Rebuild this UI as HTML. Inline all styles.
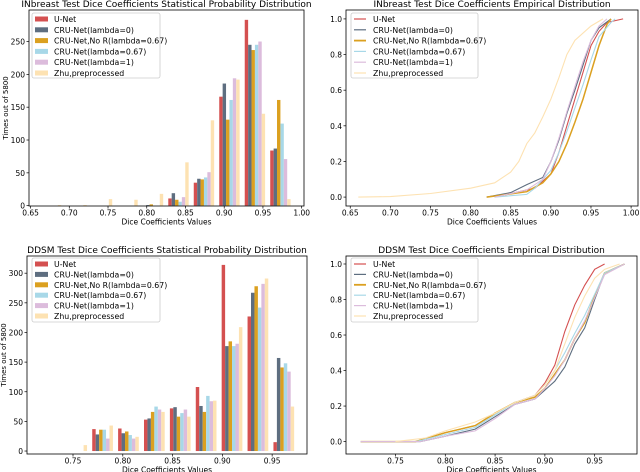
<!DOCTYPE html>
<html><head><meta charset="utf-8"><style>
html,body{margin:0;padding:0;background:#fff;}
svg{display:block;font-family:"DejaVu Sans","Liberation Sans",sans-serif;}
</style></head><body>
<svg id="s" width="640" height="472" viewBox="0 0 640 472"></svg>
<script>
const seriesNames=["U-Net","CRU-Net(lambda=0)","CRU-Net,No R(lambda=0.67)","CRU-Net(lambda=0.67)","CRU-Net(lambda=1)","Zhu,preprocessed"];
const colors=["#d45050","#5e6e80","#dba020","#a8d8e8","#dcbcdc","#fde2b2"];
// INbreast histogram (10 bins), rows=series
const inbBinStart=0.660, inbBinWidth=0.0329;
const inbU=[0,0,0,0,0,11,35,166,283,84];
const inbC0=[0,0,0,0,1,19,41,186,245,87];
const inbNoR=[0,0,0,0,2,9,40,131,237,161];
const inbC67=[0,0,0,0,0,6,43,161,245,125];
const inbC1=[0,0,0,0,0,13,51,194,250,71];
const inbZhu=[1,1,10,9,18,66,130,192,140,10];
// DDSM histogram
const ddBinStart=0.7147, ddBinWidth=0.026;
const ddU=[0,0,37,38,53,72,108,314,227,15];
const ddC0=[0,0,28,30,55,74,76,177,267,157];
const ddNoR=[0,0,36,33,66,58,66,185,278,141];
const ddC67=[0,0,36,27,75,64,93,177,242,148];
const ddC1=[0,0,21,21,70,70,84,181,282,134];
const ddZhu=[0,10,43,24,66,58,85,209,291,75];
// INbreast ECDFs
const eiUx=[0.83,0.88,0.90,0.91,0.92,0.93,0.94,0.95,0.96,0.97,0.99];
const eiUy=[0,0.05,0.13,0.25,0.40,0.55,0.70,0.85,0.93,0.98,1.0];
const eiC0x=[0.82,0.85,0.87,0.89,0.90,0.91,0.92,0.93,0.94,0.95,0.96,0.975];
const eiC0y=[0,0.025,0.07,0.11,0.20,0.32,0.47,0.60,0.74,0.88,0.95,1.0];
const eiNoRx=[0.82,0.87,0.89,0.90,0.91,0.92,0.93,0.94,0.95,0.96,0.97,0.975];
const eiNoRy=[0,0.03,0.08,0.13,0.20,0.30,0.42,0.55,0.70,0.85,0.97,1.0];
const eiC67x=[0.83,0.87,0.88,0.90,0.91,0.92,0.93,0.94,0.95,0.96,0.975,0.98];
const eiC67y=[0,0.015,0.05,0.15,0.25,0.37,0.50,0.63,0.77,0.90,0.98,1.0];
const eiC1x=[0.83,0.87,0.89,0.90,0.91,0.92,0.93,0.94,0.95,0.96,0.97];
const eiC1y=[0,0.04,0.10,0.20,0.33,0.48,0.62,0.76,0.88,0.96,1.0];
const eiZx=[0.66,0.70,0.75,0.80,0.83,0.85,0.86,0.87,0.88,0.89,0.90,0.91,0.92,0.93,0.95,0.965];
const eiZy=[0,0.003,0.02,0.05,0.08,0.14,0.20,0.30,0.36,0.45,0.55,0.67,0.80,0.88,0.96,1.0];
// DDSM ECDFs
const edUx=[0.715,0.77,0.80,0.83,0.85,0.87,0.89,0.90,0.91,0.92,0.93,0.94,0.95,0.96];
const edUy=[0,0,0.05,0.09,0.16,0.22,0.26,0.33,0.43,0.62,0.77,0.88,0.97,1.0];
const edC0x=[0.715,0.775,0.80,0.83,0.85,0.87,0.89,0.90,0.91,0.92,0.93,0.94,0.95,0.96,0.98];
const edC0y=[0,0,0.03,0.07,0.14,0.21,0.24,0.29,0.34,0.42,0.55,0.64,0.80,0.95,1.0];
const edNoRx=[0.715,0.77,0.80,0.83,0.85,0.87,0.89,0.90,0.91,0.92,0.93,0.94,0.95,0.96,0.98];
const edNoRy=[0,0,0.05,0.09,0.16,0.22,0.25,0.30,0.38,0.46,0.58,0.67,0.82,0.95,1.0];
const edC67x=[0.715,0.77,0.80,0.83,0.85,0.87,0.89,0.90,0.91,0.92,0.93,0.94,0.95,0.96,0.98];
const edC67y=[0,0,0.04,0.08,0.15,0.22,0.26,0.32,0.40,0.50,0.61,0.71,0.83,0.95,1.0];
const edC1x=[0.715,0.775,0.80,0.83,0.85,0.87,0.89,0.90,0.91,0.92,0.93,0.94,0.95,0.96,0.98];
const edC1y=[0,0,0.03,0.06,0.13,0.21,0.24,0.30,0.37,0.46,0.58,0.68,0.81,0.94,1.0];
const edZx=[0.75,0.78,0.80,0.83,0.85,0.87,0.89,0.90,0.91,0.92,0.93,0.94,0.95,0.96,0.975];
const edZy=[0,0.02,0.06,0.11,0.16,0.22,0.26,0.32,0.40,0.55,0.70,0.82,0.92,0.97,1.0];

const NS="http://www.w3.org/2000/svg";
const svg=document.getElementById('s');
function mk(tag,attrs,parent){const e=document.createElementNS(NS,tag);for(const k in attrs)e.setAttribute(k,attrs[k]);(parent||svg).appendChild(e);return e;}
function txt(x,y,s,opts,parent){const t=mk('text',Object.assign({x:x,y:y,'font-size':8,fill:'#000'},opts||{}),parent);t.textContent=s;return t;}

function makeAxes(name,fr,xd,yd,xt,xtl,yt,ytl,title,ylabel){
  const g=mk('g',{});
  
  
  const sx=v=>fr.x0+(v-xd[0])/(xd[1]-xd[0])*(fr.x1-fr.x0);
  const sy=v=>fr.y1-(v-yd[0])/(yd[1]-yd[0])*(fr.y1-fr.y0);
  const tt=txt((fr.x0+fr.x1)/2,fr.y0-3,title,{'font-size':9,'text-anchor':'middle'},g);
  
  
  xt.forEach((v,i)=>{const x=sx(v);mk('line',{x1:x,x2:x,y1:fr.y1,y2:fr.y1+2.5,stroke:'#000','stroke-width':0.7},g);
    const l=txt(x,fr.y1+9.5,xtl[i],{'text-anchor':'middle','font-size':7.5},g);
    
    });
  yt.forEach((v,i)=>{const y=sy(v);mk('line',{x1:fr.x0-2.5,x2:fr.x0,y1:y,y2:y,stroke:'#000','stroke-width':0.7},g);
    const l=txt(fr.x0-4,y+3,ytl[i],{'text-anchor':'end','font-size':7.5},g);
    
    });
  const xl=txt((fr.x0+fr.x1)/2,fr.y1+18.5,'Dice Coefficients Values',{'text-anchor':'middle','font-size':7.5},g);
  
  
  if(ylabel){const yl=txt(0,0,ylabel,{'text-anchor':'middle','font-size':7,transform:`translate(${fr.x0-21},${(fr.y0+fr.y1)/2}) rotate(-90)`},g);
    
    }
  return {g,sx,sy,fr};
}
function frame(ax){mk('rect',{x:ax.fr.x0,y:ax.fr.y0,width:ax.fr.x1-ax.fr.x0,height:ax.fr.y1-ax.fr.y0,fill:'none',stroke:'#000','stroke-width':0.8},ax.g);}
function legend(ax,lx,ly,w,h,rowH,isLine){
  const lg=mk('g',{},ax.g);
  
  
  mk('rect',{x:lx,y:ly,width:w,height:h,fill:'#fff','fill-opacity':0.85,stroke:'#ccc','stroke-width':0.8,rx:2},lg);
  seriesNames.forEach((n,i)=>{const y=ly+6+i*rowH;
    const e=mk('g',{},lg);
    
    
    if(isLine)mk('line',{x1:lx+3,x2:lx+15,y1:y,y2:y,stroke:colors[i],'stroke-width':i==2?1.8:1.2},e);
    else mk('rect',{x:lx+3,y:y-2.5,width:13,height:5,fill:colors[i]},e);
    txt(lx+22,y+3,n,{'font-size':7.8},e);});
}
function hist(ax,start,w,data){
  data.forEach((arr,k)=>{arr.forEach((v,i)=>{if(v<=0)return;
    const left=start+i*w+0.1*w+k*(0.8*w/6);
    const x0=ax.sx(left),x1=ax.sx(left+0.8*w/6);
    const r=mk('rect',{x:x0,y:ax.sy(v),width:x1-x0,height:ax.sy(0)-ax.sy(v),fill:colors[k]},ax.g);
    
    });});
}
function ecdf(ax,xs,ys){
  xs.forEach((xx,k)=>{const d=xx.map((v,i)=>(i?'L':'M')+ax.sx(v).toFixed(1)+' '+ax.sy(ys[k][i]).toFixed(1)).join(' ');
    const p=mk('path',{d:d,fill:'none',stroke:colors[k],'stroke-width':k==2?1.5:1.1},ax.g);
    
    });
}
// top-left
let a1=makeAxes('inbreast-histogram',{x0:29,x1:304,y0:10,y1:206},[0.648,1.003],[-0.5,298],
 [0.65,0.70,0.75,0.80,0.85,0.90,0.95,1.00],['0.65','0.70','0.75','0.80','0.85','0.90','0.95','1.00'],
 [0,50,100,150,200,250],['0','50','100','150','200','250'],'INbreast Test Dice Coefficients Statistical Probability Distribution','Times out of 5800');
hist(a1,inbBinStart,inbBinWidth,[inbU,inbC0,inbNoR,inbC67,inbC1,inbZhu]);
frame(a1);legend(a1,32,13,128,65,10.8,false);
// bottom-left
let a2=makeAxes('ddsm-histogram',{x0:27,x1:307,y0:256,y1:454},[0.7038,0.985],[-5,329],
 [0.75,0.80,0.85,0.90,0.95],['0.75','0.80','0.85','0.90','0.95'],
 [0,50,100,150,200,250,300],['0','50','100','150','200','250','300'],'DDSM Test Dice Coefficients Statistical Probability Distribution','Times out of 5800');
hist(a2,ddBinStart,ddBinWidth,[ddU,ddC0,ddNoR,ddC67,ddC1,ddZhu]);
frame(a2);legend(a2,32,258,128,64,10.4,false);
// top-right
let a3=makeAxes('inbreast-ecdf',{x0:346,x1:638,y0:10,y1:206},[0.6447,1.0086],[-0.05,1.05],
 [0.65,0.70,0.75,0.80,0.85,0.90,0.95,1.00],['0.65','0.70','0.75','0.80','0.85','0.90','0.95','1.00'],
 [0,0.2,0.4,0.6,0.8,1.0],['0.0','0.2','0.4','0.6','0.8','1.0'],'INbreast Test Dice Coefficients Empirical Distribution',null);
ecdf(a3,[eiUx,eiC0x,eiNoRx,eiC67x,eiC1x,eiZx],[eiUy,eiC0y,eiNoRy,eiC67y,eiC1y,eiZy]);
frame(a3);legend(a3,351,13,127,65,10.8,true);
// bottom-right
let a4=makeAxes('ddsm-ecdf',{x0:346,x1:637,y0:256,y1:454},[0.7003,0.9925],[-0.07,1.045],
 [0.75,0.80,0.85,0.90,0.95],['0.75','0.80','0.85','0.90','0.95'],
 [0,0.2,0.4,0.6,0.8,1.0],['0.0','0.2','0.4','0.6','0.8','1.0'],'DDSM Test Dice Coefficients Empirical Distribution',null);
ecdf(a4,[edUx,edC0x,edNoRx,edC67x,edC1x,edZx],[edUy,edC0y,edNoRy,edC67y,edC1y,edZy]);
frame(a4);legend(a4,351,258,127,64,10.4,true);
</script>
</body></html>
